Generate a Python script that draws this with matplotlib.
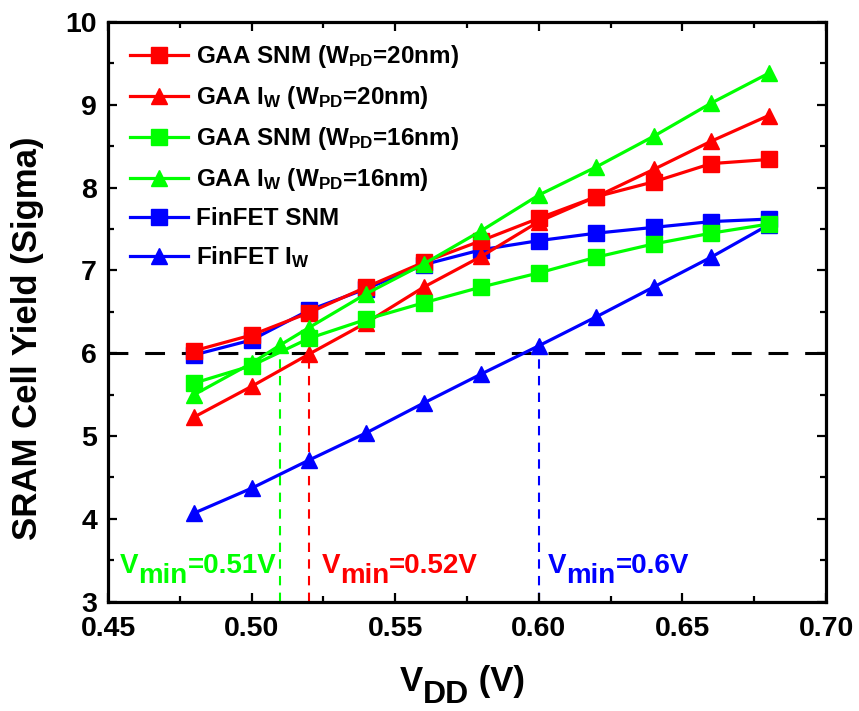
import matplotlib
matplotlib.use('Agg')
import matplotlib.pyplot as plt
from matplotlib.ticker import MultipleLocator
from matplotlib.transforms import IdentityTransform

plt.rcParams['font.family'] = 'Liberation Sans'
plt.rcParams['font.weight'] = 'bold'
plt.rcParams['mathtext.default'] = 'regular'

# supply voltage sweep (V)
vdd = [0.48, 0.50, 0.52, 0.54, 0.56, 0.58, 0.60, 0.62, 0.64, 0.66, 0.68]
vdd_iw_16 = [0.48, 0.50, 0.51, 0.52, 0.54, 0.56, 0.58, 0.60, 0.62, 0.64, 0.66, 0.68]

# yield in sigma
gaa_snm_20 = [6.03, 6.22, 6.49, 6.80, 7.10, 7.36, 7.63, 7.89, 8.07, 8.29, 8.34]
gaa_iw_20 = [5.23, 5.60, 5.99, 6.37, 6.80, 7.17, 7.59, 7.89, 8.22, 8.56, 8.87]
gaa_snm_16 = [5.64, 5.85, 6.18, 6.41, 6.61, 6.80, 6.97, 7.16, 7.32, 7.45, 7.56]
gaa_iw_16 = [5.50, 5.88, 6.10, 6.31, 6.72, 7.08, 7.48, 7.91, 8.25, 8.62, 9.02, 9.38]
finfet_snm = [5.98, 6.16, 6.52, 6.78, 7.07, 7.25, 7.36, 7.45, 7.52, 7.59, 7.62]
finfet_iw = [4.07, 4.37, 4.71, 5.04, 5.40, 5.75, 6.09, 6.44, 6.80, 7.16, 7.55]

target = 6
vmin = [0.51, 0.52, 0.60]
vmin_text = ['0.51V', '0.52V', '0.6V']
vmin_text_x = [0.4541, 0.5243, 0.6031]

RED, GREEN, BLUE = '#ff0000', '#00ff00', '#0000ff'

fig = plt.figure(figsize=(8.59, 7.11), dpi=100)
ax = fig.add_axes([108/859, 1 - 601.7/711, 718/859, 579.7/711])

kw = dict(lw=2.3, ms=11)
h_fs, = ax.plot(vdd, finfet_snm, color=BLUE, marker='s', **kw)
h_fi, = ax.plot(vdd, finfet_iw, color=BLUE, marker='^', **kw)
h_rs, = ax.plot(vdd, gaa_snm_20, color=RED, marker='s', **kw)
h_ri, = ax.plot(vdd, gaa_iw_20, color=RED, marker='^', **kw)
h_gs, = ax.plot(vdd, gaa_snm_16, color=GREEN, marker='s', **kw)
h_gi, = ax.plot(vdd_iw_16, gaa_iw_16, color=GREEN, marker='^', **kw)

ax.axhline(target, color='black', lw=2.2, ls=(0, (6.5, 5.5)), zorder=1)
for v, c in zip(vmin, [GREEN, RED, BLUE]):
    ax.vlines(v, 3, target, color=c, lw=1.5, ls=(0, (4.5, 3.5)), zorder=1)

ax.set_xlim(0.45, 0.70)
ax.set_ylim(3, 10)
ax.xaxis.set_major_locator(MultipleLocator(0.05))
ax.xaxis.set_minor_locator(MultipleLocator(0.025))
ax.yaxis.set_major_locator(MultipleLocator(1))
ax.yaxis.set_minor_locator(MultipleLocator(0.5))
ax.xaxis.set_major_formatter(matplotlib.ticker.FormatStrFormatter('%.2f'))
ax.tick_params(which='both', direction='in', top=True, right=True, width=1.6)
ax.tick_params(which='major', length=6.5, labelsize=20.5)
ax.tick_params(which='minor', length=4)
ax.tick_params(axis='x', pad=10)
ax.tick_params(axis='y', pad=8)
for s in ax.spines.values():
    s.set_linewidth(2.3)

ax.legend([h_rs, h_ri, h_gs, h_gi, h_fs, h_fi],
          ['GAA SNM (W$_{PD}$=20nm)', 'GAA I$_W$ (W$_{PD}$=20nm)',
           'GAA SNM (W$_{PD}$=16nm)', 'GAA I$_W$ (W$_{PD}$=16nm)',
           'FinFET SNM', 'FinFET I$_W$'],
          loc='upper left', bbox_to_anchor=(0.024, 0.972), frameon=False,
          fontsize=17.5, handlelength=2.4, handletextpad=0.3, labelspacing=0.58,
          borderpad=0.2, borderaxespad=0)

fig.canvas.draw()
renderer = fig.canvas.get_renderer()


def chain(x, y, pieces, color):
    # pieces: (text, size, drop in px); x, y in display pixels
    for s, size, drop in pieces:
        t = fig.text(x, y - drop, s, transform=IdentityTransform(), fontsize=size,
                     fontweight='bold', color=color, ha='left', va='baseline')
        x += t.get_window_extent(renderer).width


for xt, txt, c in zip(vmin_text_x, vmin_text, [GREEN, RED, BLUE]):
    px, py = ax.transData.transform((xt, 3.343))
    chain(px, py, [('V', 20, 0), ('min', 20, 10), ('=' + txt, 20, 0)], c)

chain(400, 711 - 691, [('V', 25, 0), ('DD', 23, 12), (' (V)', 25, 0)], 'black')

fig.text(28/859, 1 - 338/711, 'SRAM Cell Yield (Sigma)', rotation=90,
         ha='center', va='center', fontsize=25, fontweight='bold')

fig.savefig('out.png', dpi=100)
